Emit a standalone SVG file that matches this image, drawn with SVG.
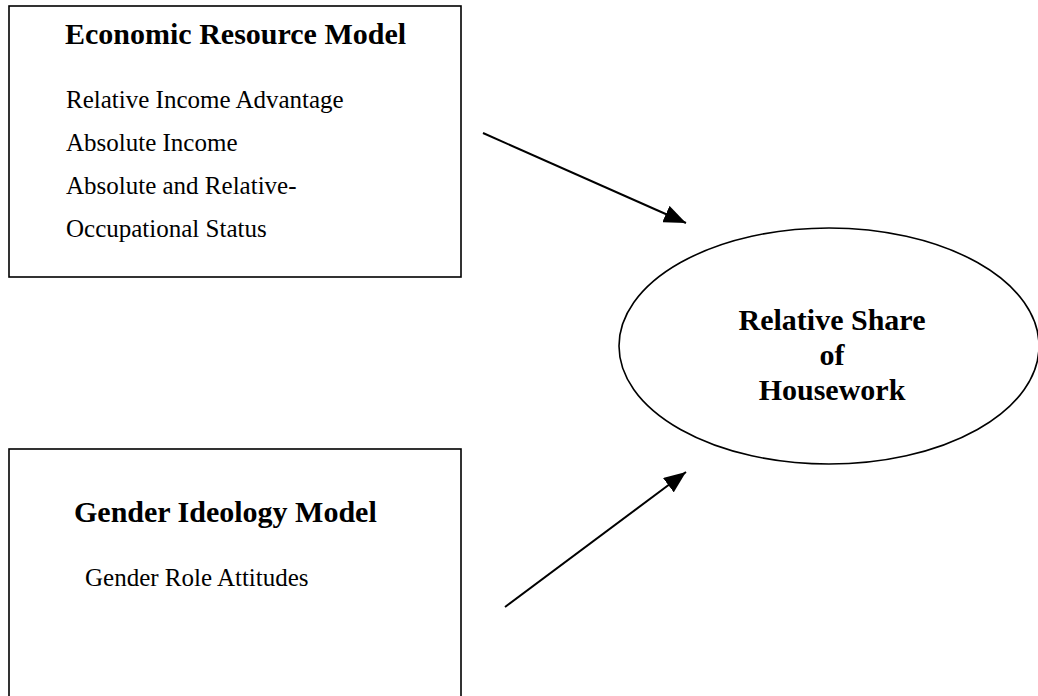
<svg xmlns="http://www.w3.org/2000/svg" width="1038" height="696" viewBox="0 0 1038 696">
<style>
.box{fill:#fff;stroke:#000;stroke-width:1.6}
.ttl{font-family:"Liberation Serif","Times New Roman",serif;font-weight:bold;font-size:30px;fill:#000}
.txt{font-family:"Liberation Serif","Times New Roman",serif;font-size:25px;fill:#000}
.conn{stroke:#000;stroke-width:2;fill:none}
</style>
<defs>
<marker id="ah" markerUnits="userSpaceOnUse" markerWidth="24" markerHeight="18" refX="22" refY="9" orient="auto">
<path d="M0,0 L22,9 L0,18 z" fill="#000"/>
</marker>
</defs>
<rect width="1038" height="696" fill="#fff"/>
<g id="economic-resource-model">
<rect class="box" x="9" y="6" width="452" height="271"/>
<text class="ttl" x="65" y="44">Economic Resource Model</text>
<text class="txt" x="66" y="108">Relative Income Advantage</text>
<text class="txt" x="66" y="151">Absolute Income</text>
<text class="txt" x="66" y="194">Absolute and Relative-</text>
<text class="txt" x="66" y="237">Occupational Status</text>
</g>
<g id="gender-ideology-model">
<rect class="box" x="9" y="449" width="452" height="260"/>
<text class="ttl" x="74" y="522">Gender Ideology Model</text>
<text class="txt" x="85" y="586">Gender Role Attitudes</text>
</g>
<g id="relative-share">
<ellipse class="box" cx="829" cy="346" rx="210" ry="118"/>
<text class="ttl" x="832" y="330" text-anchor="middle">Relative Share</text>
<text class="ttl" x="832" y="365" text-anchor="middle">of</text>
<text class="ttl" x="832" y="400" text-anchor="middle">Housework</text>
</g>
<g id="connectors">
<line class="conn" x1="483" y1="133" x2="686" y2="223" marker-end="url(#ah)"/>
<line class="conn" x1="505" y1="607" x2="686" y2="472" marker-end="url(#ah)"/>
</g>
</svg>
